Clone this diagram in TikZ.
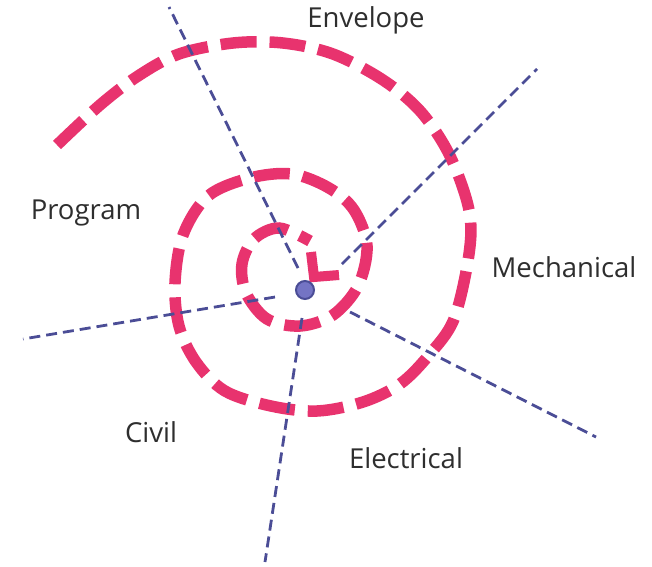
\documentclass[tikz,border=0pt]{standalone}
\usepackage{fontspec}
\setmainfont{Open Sans}
\usepackage{xcolor}
\usetikzlibrary{positioning, calc}

\definecolor{spiralpink}{HTML}{E8336E}
\definecolor{axisblue}{HTML}{4B4D96}
\definecolor{hubblue}{HTML}{7474C4}
\definecolor{labelgray}{HTML}{2E2E2E}

\begin{document}
\begin{tikzpicture}[
    x=1pt, y=-1pt,
    spiral/.style={draw=spiralpink, line width=11.5pt, dash pattern=on 36pt off 13pt},
    axis/.style={draw=axisblue, line width=2.8pt, dash pattern=on 11pt off 6pt},
    tip/.style={draw=spiralpink, line width=10pt, miter limit=10},
    discipline/.style={font=\fontsize{27.5}{30}\selectfont, text=labelgray, inner sep=0pt}
]
\useasboundingbox (0,0) rectangle (652,566);

% spiral, outside in
\draw[spiral] plot[smooth, tension=0.55] coordinates {
    (57,145) (100,105) (138,76) (179,54) (233,43) (283,43) (333,54) (383,80)
    (421,112) (450,156) (469,210) (469,254) (454,319) (429,355) (400,384)
    (363,402) (317,411) (271,406) (225,391) (196,362) (179,326) (175,283)
    (183,235) (208,196) (250,178) (292,174) (329,188) (354,210) (367,246)
    (358,286) (333,315) (300,326) (267,319) (246,293) (242,264) (254,239)
    (279,228) (310,241)};

% radial axes
\coordinate (envIn)  at (298,268); \coordinate (envOut)  at (169,7);
\coordinate (mechIn) at (342,264); \coordinate (mechOut) at (537,69);
\coordinate (elecIn) at (350,312); \coordinate (elecOut) at (596,437);
\coordinate (civIn)  at (302,318); \coordinate (civOut)  at (265,562);
\coordinate (progIn) at (275,297); \coordinate (progOut) at (23,339);
\foreach \a in {env, mech, elec, civ, prog}
    \draw[axis] (\a In) -- (\a Out);

% arrow head at the centre
\draw[tip] (311,252) -- (314,277) -- (339,275);

% hub
\node[circle, draw=axisblue, fill=hubblue, line width=2pt, minimum size=18pt,
      inner sep=0pt] (hub) at (305,290) {};

\node[discipline] (envelope)   at (366,20)  {Envelope};
\node[discipline] (mechanical) at (564,267) {Mechanical};
\node[discipline] (program)    at (86,213)  {Program};
\node[discipline] (civil)      at (151,432) {Civil};
\node[discipline] (electrical) at (406,458) {Electrical};

\end{tikzpicture}
\end{document}
